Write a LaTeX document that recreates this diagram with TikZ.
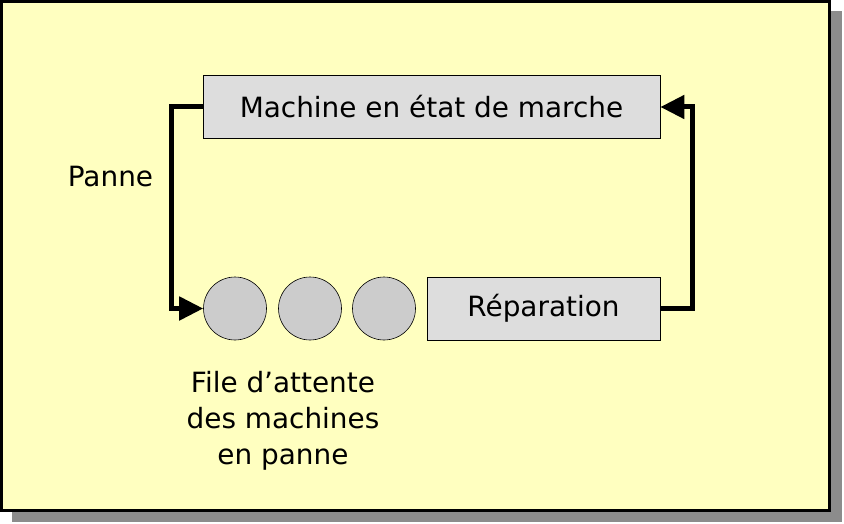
\documentclass[tikz,border=0pt]{standalone}
\usepackage{fontspec}
\setmainfont{DejaVu Sans}
\usetikzlibrary{calc}
\usetikzlibrary{positioning}
\usetikzlibrary{arrows.meta}
\definecolor{bgyellow}{HTML}{FFFFC0}
\definecolor{boxgray}{HTML}{DDDDDD}
\definecolor{queuegray}{HTML}{CCCCCC}
\definecolor{shadowgray}{HTML}{8C8C8C}
\tikzstyle{statebox} = [draw, fill=boxgray, line width=0.8pt, minimum height=63pt, inner sep=0pt, align=center]
\tikzstyle{queuenode} = [draw, circle, fill=queuegray, line width=0.6pt, minimum size=63pt, inner sep=0pt]
\tikzstyle{label} = [align=center, inner sep=0pt]
\tikzstyle{conn} = [line width=5pt, -{Triangle[length=24pt,width=23pt]}]
\begin{document}
\begin{tikzpicture}[x=1pt, y=-1pt, font=\fontsize{27.9}{36}\selectfont]
    \useasboundingbox (0,0) rectangle (844,524);
    \fill[shadowgray] (12,11) rectangle (842,522);
    \draw[line width=3pt, fill=bgyellow] (1.5,1.5) rectangle (829,510);

    \node[statebox, minimum width=457pt] (machine) at (431.5,107) {Machine en état de marche};
    \node[statebox, minimum width=233pt] (repair) at (543.5,308.5) {Réparation};
    \node[queuenode] (q_one) at (235,308.5) {};
    \node[queuenode] (q_two) at ($(q_one)+(75,0)$) {};
    \node[queuenode] (q_three) at ($(q_two)+(74,0)$) {};

    \node[label, anchor=base] (panne) at (110.5,187) {Panne};
    \node[label] (queue_txt) at (283,421) {File d’attente\\des machines\\en panne};

    \draw[conn] (machine.west) -- ++(-31.5,0) |- (q_one.west);
    \draw[conn] (repair.east) -- ++(32,0) |- (machine.east);
\end{tikzpicture}
\end{document}
